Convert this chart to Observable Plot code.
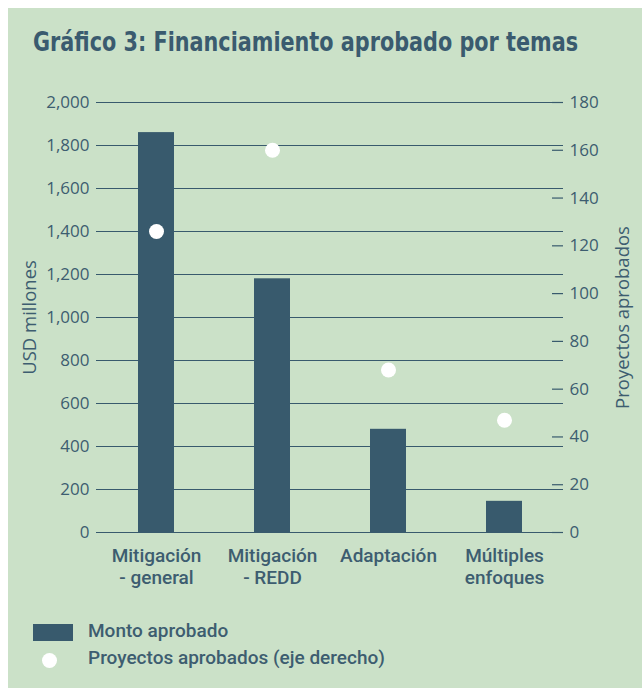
<!DOCTYPE html>
<html>
<head>
<meta charset="utf-8">
<script src="https://cdn.jsdelivr.net/npm/d3@7"></script>
<script src="https://cdn.jsdelivr.net/npm/@observablehq/plot@0.6"></script>
<style>
  html, body { margin: 0; padding: 0; background: #ffffff; }
  #panel { position: absolute; left: 8px; top: 8px; width: 634px; height: 680px; background: #cbe1c8; overflow: hidden; }
  #title { position: absolute; left: 25px; top: 21px; margin: 0; font-family: "DejaVu Sans Condensed", "DejaVu Sans", sans-serif; font-weight: bold; font-size: 26px; line-height: 27px; color: #3a5b6f; white-space: nowrap; transform-origin: 0 0; }
  #chart { position: absolute; left: 0; top: 72px; }
  .leg { position: absolute; left: 80px; font-family: Roboto, sans-serif; font-weight: 500; font-size: 19px; line-height: 22px; color: #3d5d70; white-space: nowrap; }
  #sw1 { position: absolute; left: 25px; top: 616px; width: 40px; height: 17px; background: #385a6d; }
  #sw2 { position: absolute; left: 33.5px; top: 644.5px; width: 15px; height: 15px; border-radius: 50%; background: #ffffff; }
</style>
</head>
<body>
<div id="panel">
  <div id="title">Gráfico 3: Financiamiento aprobado por temas</div>
  <div id="chart"></div>
  <div id="sw1"></div>
  <div class="leg" style="top:612px">Monto aprobado</div>
  <div id="sw2"></div>
  <div class="leg" style="top:639px">Proyectos aprobados (eje derecho)</div>
</div>
<script>
const categorias = ["Mitigación - general", "Mitigación - REDD", "Adaptación", "Múltiples enfoques"];
const etiquetas = ["Mitigación\n- general", "Mitigación\n- REDD", "Adaptación", "Múltiples\nenfoques"];
const monto = [1860, 1180, 480, 145];          // USD millones (eje izquierdo)
const proyectos = [126, 160, 68, 47];          // Proyectos aprobados (eje derecho)
const ticksIzq = [0, 200, 400, 600, 800, 1000, 1200, 1400, 1600, 1800, 2000];
const ticksDer = [0, 20, 40, 60, 80, 100, 120, 140, 160, 180];

const color = "#385a6d";
const textColor = "#3d5d70";
const maxIzq = 2000, maxDer = 180;
const k = maxIzq / maxDer;

const datos = categorias.map((c, i) => ({categoria: c, monto: monto[i], proyectos: proyectos[i]}));

const W = 634, H = 520, mL = 88, mR = 79;
const frameW = W - mL - mR;

const chart = Plot.plot({
  width: W,
  height: H,
  marginTop: 22,
  marginBottom: 68,
  marginLeft: mL,
  marginRight: mR,
  style: {background: "transparent", color: textColor, fontFamily: "'Open Sans', sans-serif", fontSize: "17px", overflow: "visible"},
  x: {domain: categorias, padding: 0, axis: null},
  y: {domain: [0, maxIzq], axis: null},
  marks: [
    Plot.ruleY(ticksIzq, {stroke: color, strokeWidth: 1.2}),
    Plot.tickY(ticksDer, {y: d => d * k, insetLeft: frameW - 11, stroke: color, strokeWidth: 1.2}),
    Plot.barY(datos, {x: "categoria", y: "monto", fill: color, insetLeft: 40, insetRight: 40}),
    Plot.dot(datos, {x: "categoria", y: d => d.proyectos * k, r: 7.5, fill: "#ffffff", stroke: null}),
    Plot.axisY(ticksIzq, {anchor: "left", tickSize: 0, tickPadding: 7, tickFormat: d3.format(","), label: null, fill: textColor, fontSize: 17, fontFamily: "'Open Sans', sans-serif"}),
    Plot.axisY(ticksDer.map(d => d * k), {anchor: "right", tickSize: 0, tickPadding: 6, tickFormat: d => String(Math.round(d / k)), label: null, fill: textColor, fontSize: 17, fontFamily: "'Open Sans', sans-serif"}),
    Plot.axisX({anchor: "bottom", tickSize: 0, tickPadding: 14, tickFormat: d => etiquetas[categorias.indexOf(d)], label: null, fill: textColor, fontSize: 19, fontWeight: 500, fontFamily: "Roboto, sans-serif", lineHeight: 1.16}),
    Plot.text(["USD millones"], {frameAnchor: "left", textAnchor: "middle", rotate: -90, dx: -66, text: d => d, fill: textColor, fontSize: 18.5, fontFamily: "'Open Sans', sans-serif"}),
    Plot.text(["Proyectos aprobados"], {frameAnchor: "right", textAnchor: "middle", rotate: -90, dx: 60, text: d => d, fill: textColor, fontSize: 18.5, fontFamily: "'Open Sans', sans-serif"})
  ]
});
document.getElementById("chart").appendChild(chart);

// fit the condensed title to the reference width
const t = document.getElementById("title");
const tw = t.getBoundingClientRect().width;
t.style.transform = `scaleX(${545 / tw})`;
</script>
</body>
</html>
